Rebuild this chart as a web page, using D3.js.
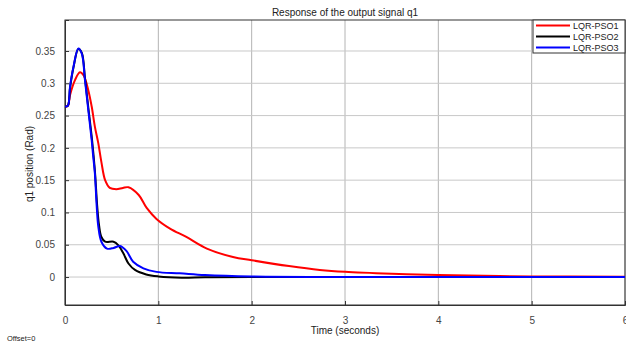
<!DOCTYPE html>
<html>
<head>
<meta charset="utf-8">
<script src="https://cdn.jsdelivr.net/npm/d3@7"></script>
<style>
	body { margin: 0; background: #fff; }
	svg { font-family: 'Liberation Sans', Arial, sans-serif; }
</style>
</head>
<body>
<div id="chart"></div>
<script>
// time samples (seconds) and the three responses
const timePSO1 = [0, 0.03, 0.054, 0.107, 0.16, 0.2, 0.25, 0.286, 0.32, 0.357, 0.39, 0.43, 0.48, 0.55, 0.62, 0.68, 0.79, 0.875, 0.98, 1.125, 1.3, 1.52, 1.8, 2.0, 2.4, 2.73, 3.0, 3.5, 4.0, 5.0, 6.0]
const valuesPSO1 = [0.264, 0.265, 0.282, 0.305, 0.317, 0.312, 0.289, 0.264, 0.233, 0.207, 0.178, 0.15, 0.138, 0.136, 0.138, 0.139, 0.127, 0.107, 0.09, 0.075, 0.062, 0.044, 0.031, 0.026, 0.017, 0.011, 0.008, 0.005, 0.003, 0.001, 0.0005]

const timePSO2 = [0, 0.03, 0.054, 0.09, 0.143, 0.18, 0.214, 0.25, 0.29, 0.32, 0.345, 0.365, 0.39, 0.43, 0.52, 0.57, 0.625, 0.68, 0.75, 0.87, 1.0, 1.25, 1.5, 2.0, 6.0]
const valuesPSO2 = [0.264, 0.265, 0.293, 0.324, 0.353, 0.347, 0.308, 0.262, 0.212, 0.165, 0.11, 0.08, 0.062, 0.0547, 0.0547, 0.0495, 0.0367, 0.021, 0.011, 0.004, 0.001, -0.001, -0.0003, 0, 0]

const timePSO3 = [0, 0.03, 0.054, 0.09, 0.143, 0.18, 0.214, 0.25, 0.286, 0.3, 0.32, 0.34, 0.357, 0.39, 0.45, 0.52, 0.59, 0.66, 0.73, 0.84, 0.98, 1.23, 1.5, 2.0, 3.0, 6.0]
const valuesPSO3 = [0.264, 0.265, 0.295, 0.325, 0.354, 0.346, 0.305, 0.258, 0.212, 0.19, 0.161, 0.109, 0.078, 0.0547, 0.044, 0.045, 0.048, 0.04, 0.0237, 0.0135, 0.008, 0.0057, 0.003, 0.0008, 0, 0]

const seriesNames = ['LQR-PSO1', 'LQR-PSO2', 'LQR-PSO3']
const seriesColors = ['#ff0000', '#000000', '#0000ff']
const xTicks = [0, 1, 2, 3, 4, 5, 6]
const yTicks = [0, 0.05, 0.1, 0.15, 0.2, 0.25, 0.3, 0.35]

const series = [
	{ name: seriesNames[0], color: seriesColors[0], points: timePSO1.map((t, i) => [t, valuesPSO1[i]]) },
	{ name: seriesNames[1], color: seriesColors[1], points: timePSO2.map((t, i) => [t, valuesPSO2[i]]) },
	{ name: seriesNames[2], color: seriesColors[2], points: timePSO3.map((t, i) => [t, valuesPSO3[i]]) }
]

const margin = { top: 20, right: 1, bottom: 38, left: 65 },
	width = 626 - margin.left - margin.right,
	height = 343 - margin.top - margin.bottom

const svg = d3
	.select('#chart')
	.append('svg')
	.attr('width', 626)
	.attr('height', 343)

const g = svg.append('g').attr('transform', `translate(${margin.left},${margin.top})`)

const x = d3.scaleLinear().domain([0, 6]).range([0, width])
const y = d3.scaleLinear().domain([-0.0433, 0.398]).range([height, 0])

// grid
g.append('g')
	.selectAll('line')
	.data(xTicks)
	.enter()
	.append('line')
	.attr('x1', d => x(d))
	.attr('x2', d => x(d))
	.attr('y1', 0)
	.attr('y2', height)
	.attr('stroke', '#b4b4b4')
	.attr('stroke-width', 1)

g.append('g')
	.selectAll('line')
	.data(yTicks)
	.enter()
	.append('line')
	.attr('x1', 0)
	.attr('x2', width)
	.attr('y1', d => y(d))
	.attr('y2', d => y(d))
	.attr('stroke', '#c8c8c8')
	.attr('stroke-width', 1)

// axes
const xAxis = g.append('g')
	.attr('transform', `translate(0,${height})`)
	.call(d3.axisBottom(x).tickValues(xTicks).tickSize(-4).tickPadding(12).tickFormat(d3.format('d')))
const yAxis = g.append('g')
	.call(d3.axisLeft(y).tickValues(yTicks).tickSize(-4).tickPadding(10).tickFormat(d => d === 0 ? '0' : String(d)))

;[xAxis, yAxis].forEach(a => {
	a.select('.domain').attr('stroke', '#333')
	a.selectAll('.tick line').attr('stroke', '#333')
	a.selectAll('.tick text').attr('fill', '#444').attr('font-size', 10).attr('font-family', "'Liberation Sans', Arial, sans-serif")
})

g.append('rect')
	.attr('width', width)
	.attr('height', height)
	.attr('fill', 'none')
	.attr('stroke', '#333')
	.attr('stroke-width', 1)

// lines
const line = d3.line()
	.x(d => x(d[0]))
	.y(d => y(d[1]))
	.curve(d3.curveCatmullRom.alpha(0.5))

g.selectAll('.series')
	.data(series)
	.enter()
	.append('path')
	.attr('class', 'series')
	.attr('d', d => line(d.points))
	.attr('fill', 'none')
	.attr('stroke', d => d.color)
	.attr('stroke-width', 2)

// legend
const legend = g.append('g').attr('transform', `translate(${width - 92},0)`)
legend.append('rect')
	.attr('width', 92)
	.attr('height', 33)
	.attr('fill', '#fff')
	.attr('stroke', '#333')
	.attr('stroke-width', 1)

const items = legend.selectAll('.item')
	.data(series)
	.enter()
	.append('g')
	.attr('transform', (d, i) => `translate(0,${5.5 + i * 11})`)

items.append('line')
	.attr('x1', 3)
	.attr('x2', 37)
	.attr('stroke', d => d.color)
	.attr('stroke-width', 2)

items.append('text')
	.attr('x', 40)
	.attr('dy', '0.35em')
	.attr('font-size', 9)
	.attr('fill', '#222')
	.text(d => d.name)

// titles
svg.append('text')
	.attr('x', margin.left + width / 2)
	.attr('y', 16)
	.attr('text-anchor', 'middle')
	.attr('font-size', 10)
	.attr('fill', '#222')
	.text('Response of the output signal q1')

svg.append('text')
	.attr('x', margin.left + width / 2)
	.attr('y', 334)
	.attr('text-anchor', 'middle')
	.attr('font-size', 10)
	.attr('fill', '#222')
	.text('Time (seconds)')

svg.append('text')
	.attr('transform', `translate(33,${margin.top + y(0.175)}) rotate(-90)`)
	.attr('text-anchor', 'middle')
	.attr('font-size', 10)
	.attr('fill', '#222')
	.text('q1 position (Rad)')

svg.append('text')
	.attr('x', 7)
	.attr('y', 341)
	.attr('font-size', 7.5)
	.attr('fill', '#222')
	.text('Offset=0')
</script>
</body>
</html>
